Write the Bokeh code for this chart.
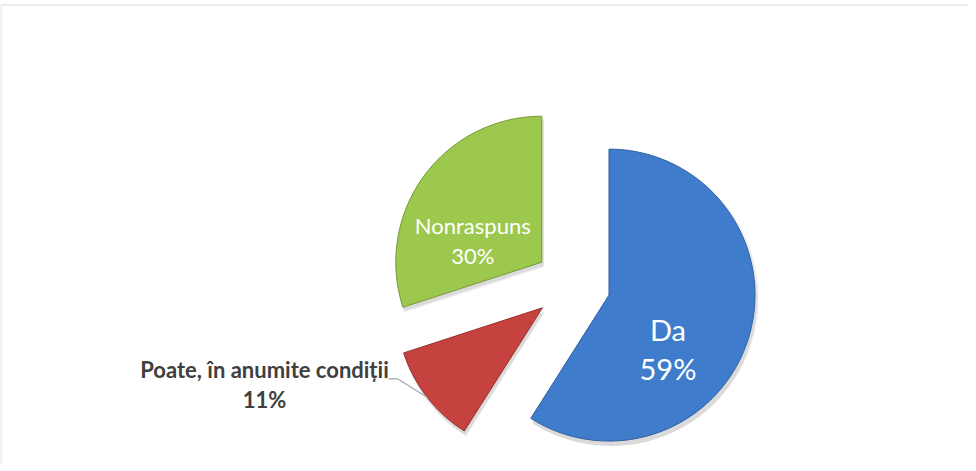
import math
from bokeh.plotting import figure
from bokeh.models import Range1d
from bokeh.embed import file_html
from bokeh.resources import INLINE
from bokeh.core.properties import value

# ---- data ----
categories = ["Da", "Poate, în anumite condiții", "Nonraspuns"]
shares = [59, 11, 30]
pct_labels = ["59%", "11%", "30%"]

# ---- style ----
colors = ["#3f7dcc", "#c6423f", "#9cc84d"]
edge_colors = ["#31629f", "#962f2c", "#78993a"]
label_colors = ["white", "#404040", "white"]
label_sizes = ["29px", "22px", "22px"]
label_styles = ["normal", "bold", "normal"]
label_spacing = [39, 30, 30]
# label block centre offsets relative to each exploded slice vertex (px)
label_dx = [59, -278, -69]
label_dy = [-54, -77, 22]

W, H = 968, 463
FONT = "Lato"

p = figure(width=W, height=H, x_range=Range1d(0, W), y_range=Range1d(0, H),
           output_backend="svg", toolbar_location=None, min_border=0)
p.axis.visible = False
p.grid.visible = False
p.outline_line_color = None
p.background_fill_color = "white"
p.border_fill_color = "white"

# chart area border (top & left visible)
p.line([0.5, 0.5, W], [0, H - 4.5, H - 4.5], line_color="#d9d9d9", line_width=1)

cx, cy = 572, 179
R = 146
explode = 38

total = float(sum(shares))
cum = 0.0
vertices = []
for i, s in enumerate(shares):
    a0 = cum / total * 360.0
    a1 = (cum + s) / total * 360.0
    cum += s
    mid = math.radians(90 - (a0 + a1) / 2)
    vx = cx + explode * math.cos(mid)
    vy = cy + explode * math.sin(mid)
    vertices.append((vx, vy, mid))
    sa = math.radians(90 - a1)
    ea = math.radians(90 - a0)
    # soft shadow
    for k, al in enumerate([0.04, 0.05, 0.06]):
        p.wedge(x=[vx + 2], y=[vy - 3 - k], radius=R + 2 - k, start_angle=sa, end_angle=ea,
                fill_color="black", fill_alpha=al, line_color=None)
    p.wedge(x=[vx], y=[vy], radius=R, start_angle=sa, end_angle=ea,
            fill_color=colors[i], line_color=edge_colors[i], line_width=1)

for i in range(len(shares)):
    vx, vy, mid = vertices[i]
    lx = vx + label_dx[i]
    ly = vy + label_dy[i]
    half = label_spacing[i] / 2
    p.text(x=[lx, lx], y=[ly + half, ly - half], text=[categories[i], pct_labels[i]],
           text_font=value(FONT), text_font_size=label_sizes[i], text_font_style=label_styles[i],
           text_color=label_colors[i], text_align="center", text_baseline="middle")

# leader line for the small external label
vx, vy, mid = vertices[1]
ex = vx + R * math.cos(mid)
ey = vy + R * math.sin(mid)
lx = vx + label_dx[1]
ly = vy + label_dy[1]
p.line([lx + 124, lx + 133, ex], [ly + 6, ly + 6, ey], line_color="#a6a6a6", line_width=1.2)

open("out.html", "w").write(file_html(p, INLINE))
